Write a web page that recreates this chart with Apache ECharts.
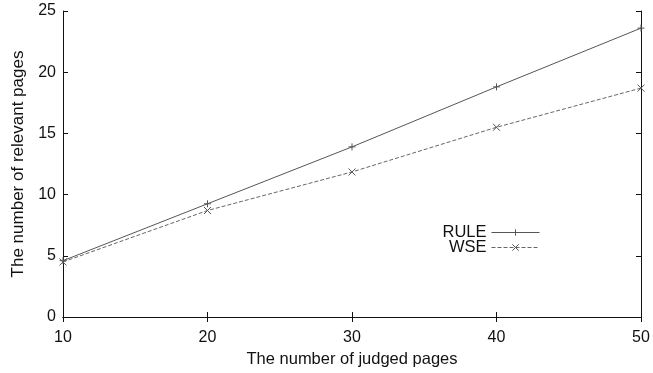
<!DOCTYPE html>
<html><head><meta charset="utf-8">
<script src="https://cdn.jsdelivr.net/npm/echarts@6/dist/echarts.min.js"></script>
<style>html,body{margin:0;padding:0;background:#fff}#c{width:653px;height:373px}</style>
</head><body><div id="c"></div>
<script>
const xValues = [10, 20, 30, 40, 50];
const ruleValues = [4.6, 9.25, 13.9, 18.8, 23.6];
const wseValues = [4.5, 8.7, 11.85, 15.5, 18.7];
const seriesNames = ['RULE', 'WSE'];
const xAxisName = 'The number of judged pages';
const yAxisName = 'The number of relevant pages';

const font = 'Liberation Sans, Arial, sans-serif';
const plus = 'path://M0,-5L0,5M-5,0L5,0';
const cross = 'path://M-5,-5L5,5M-5,5L5,-5';
const chart = echarts.init(document.getElementById('c'));
const axisCommon = {
  axisLine: {show: true, lineStyle: {color: '#111', width: 1}},
  axisTick: {show: true, inside: true, length: 5, lineStyle: {color: '#111'}},
  splitLine: {show: false}
};
chart.setOption({
  animation: false,
  grid: {left: 63, right: 12, top: 11, bottom: 56, containLabel: false, outerBoundsMode: 'none'},
  legend: {
    right: 108, top: 219, orient: 'vertical', align: 'right',
    itemWidth: 48, itemHeight: 8, itemGap: -2,
    lineStyle: {width: 1},
    itemStyle: {borderWidth: 1},
    textStyle: {fontFamily: font, fontSize: 16.5, color: '#111'},
    data: seriesNames
  },
  xAxis: [
    Object.assign({type: 'value', min: 10, max: 50, interval: 10,
      name: xAxisName, nameLocation: 'middle', nameGap: 33,
      nameTextStyle: {fontFamily: font, fontSize: 16.5, color: '#111'},
      axisLabel: {fontFamily: font, fontSize: 16, color: '#111', margin: 13}}, axisCommon),
    Object.assign({type: 'value', min: 10, max: 50, interval: 10, position: 'top',
      axisLabel: {show: false}}, axisCommon)
  ],
  yAxis: [
    Object.assign({type: 'value', min: 0, max: 25, interval: 5,
      name: yAxisName, nameLocation: 'middle', nameGap: 27,
      nameTextStyle: {fontFamily: font, fontSize: 17, color: '#111'},
      axisLabel: {fontFamily: font, fontSize: 16, color: '#111', margin: 7}}, axisCommon),
    Object.assign({type: 'value', min: 0, max: 25, interval: 5, position: 'right',
      axisLabel: {show: false}}, axisCommon)
  ],
  series: [
    {name: seriesNames[0], type: 'line', data: xValues.map((x, i) => [x, ruleValues[i]]),
      symbol: plus, symbolSize: 7, showAllSymbol: true,
      lineStyle: {color: '#555', width: 1, type: 'solid'},
      itemStyle: {color: 'none', borderColor: '#555', borderWidth: 1}},
    {name: seriesNames[1], type: 'line', data: xValues.map((x, i) => [x, wseValues[i]]),
      symbol: cross, symbolSize: 7, showAllSymbol: true,
      lineStyle: {color: '#666', width: 1, type: [4, 2]},
      itemStyle: {color: 'none', borderColor: '#555', borderWidth: 1}}
  ]
});
</script></body></html>
